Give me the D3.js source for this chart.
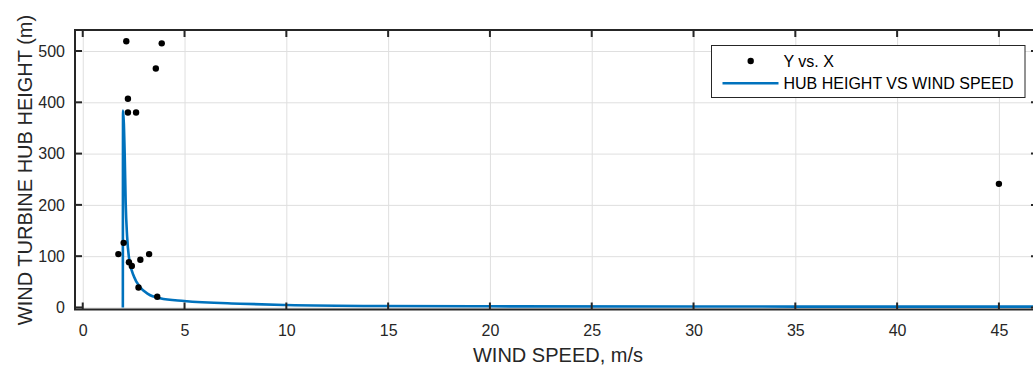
<!DOCTYPE html>
<html>
<head>
<meta charset="utf-8">
<script src="https://cdn.jsdelivr.net/npm/d3@7"></script>
<style>
  body { margin: 0; background: #fff; }
  svg { display: block; font-family: "Liberation Sans", Arial, Helvetica, sans-serif; }
</style>
</head>
<body>
<svg id="chart"></svg>
<script>
// measured points (wind speed m/s, hub height m)
const windSpeed = [2.14, 3.88, 3.59, 2.22, 2.22, 2.62, 2.01, 1.75, 3.26, 2.27, 2.41, 2.83, 2.74, 3.66, 45];
const hubHeight = [519, 515, 466, 407, 380, 380, 126, 104, 104, 88, 81, 93, 39, 21, 241];
// fitted curve
const fitSpeed = [1.97, 1.98, 2.06, 2.11, 2.18, 2.29, 2.52, 2.81, 3.22, 3.80, 4.98, 7.73, 10, 14.6, 20, 30, 40, 47.5];
const fitHeight = [0, 384, 300, 203, 138, 92, 60, 40, 26, 18, 12.6, 7.3, 4.8, 2.8, 2.2, 1.8, 1.6, 1.5];
const xTicks = [0, 5, 10, 15, 20, 25, 30, 35, 40, 45];
const yTicks = [0, 100, 200, 300, 400, 500];
const legendLabels = ["Y vs. X", "HUB HEIGHT VS WIND SPEED"];

const width = 1033, height = 365;
const plotLeft = 75, plotRight = 1038, plotTop = 30, plotBottom = 309.5;
const axisColor = "#262626";
const lineColor = "#0072BD";

const svg = d3.select("#chart").attr("width", width).attr("height", height);

const x = d3.scaleLinear().domain([-0.38, 46.92]).range([plotLeft, plotRight]);
const y = d3.scaleLinear().domain([-4, 541]).range([plotBottom, plotTop]);

// grid
svg.append("g")
    .attr("transform", "translate(0," + plotBottom + ")")
    .call(d3.axisBottom(x).tickValues(xTicks).tickSize(-(plotBottom - plotTop)).tickFormat(""))
    .call(g => g.select(".domain").remove())
    .selectAll("line").attr("stroke", "#dfdfdf").attr("stroke-width", 1);
svg.append("g")
    .attr("transform", "translate(" + plotLeft + ",0)")
    .call(d3.axisLeft(y).tickValues(yTicks).tickSize(-(plotRight - plotLeft)).tickFormat(""))
    .call(g => g.select(".domain").remove())
    .selectAll("line").attr("stroke", "#dfdfdf").attr("stroke-width", 1);

// fitted line
const pts = fitSpeed.map((d, i) => [d, fitHeight[i]]);
svg.append("path")
    .datum(pts)
    .attr("fill", "none")
    .attr("stroke", lineColor)
    .attr("stroke-width", 2.6)
    .attr("d", d3.line().x(d => x(d[0])).y(d => y(d[1])).curve(d3.curveMonotoneX));

// scatter points
svg.selectAll("circle.pt")
    .data(windSpeed)
    .enter()
    .append("circle")
    .attr("class", "pt")
    .attr("cx", d => x(d))
    .attr("cy", (d, i) => y(hubHeight[i]))
    .attr("r", 3.2)
    .attr("fill", "#000");

// axis box
svg.append("rect")
    .attr("x", plotLeft).attr("y", plotTop)
    .attr("width", plotRight - plotLeft).attr("height", plotBottom - plotTop)
    .attr("fill", "none").attr("stroke", axisColor).attr("stroke-width", 2);

// inward ticks on all four sides
const tick = 7;
svg.append("g").selectAll("line").data(xTicks).enter().append("line")
    .attr("x1", d => x(d)).attr("x2", d => x(d))
    .attr("y1", plotBottom).attr("y2", plotBottom - tick)
    .attr("stroke", axisColor).attr("stroke-width", 2);
svg.append("g").selectAll("line").data(xTicks).enter().append("line")
    .attr("x1", d => x(d)).attr("x2", d => x(d))
    .attr("y1", plotTop).attr("y2", plotTop + tick)
    .attr("stroke", axisColor).attr("stroke-width", 2);
svg.append("g").selectAll("line").data(yTicks).enter().append("line")
    .attr("x1", plotLeft).attr("x2", plotLeft + tick)
    .attr("y1", d => y(d)).attr("y2", d => y(d))
    .attr("stroke", axisColor).attr("stroke-width", 2);
svg.append("g").selectAll("line").data(yTicks).enter().append("line")
    .attr("x1", plotRight).attr("x2", plotRight - tick)
    .attr("y1", d => y(d)).attr("y2", d => y(d))
    .attr("stroke", axisColor).attr("stroke-width", 2);

// tick labels
svg.append("g")
    .attr("transform", "translate(0," + plotBottom + ")")
    .call(d3.axisBottom(x).tickValues(xTicks).tickSize(0).tickPadding(15))
    .call(g => g.select(".domain").remove())
    .selectAll("text").attr("font-size", 16).attr("fill", axisColor).attr("font-family", null);
svg.append("g")
    .attr("transform", "translate(" + plotLeft + ",0)")
    .call(d3.axisLeft(y).tickValues(yTicks).tickSize(0).tickPadding(10))
    .call(g => g.select(".domain").remove())
    .selectAll("text").attr("font-size", 16).attr("fill", axisColor).attr("font-family", null);

// axis titles
svg.append("text")
    .attr("x", 558)
    .attr("y", 361.5)
    .attr("text-anchor", "middle")
    .attr("font-size", 20)
    .attr("fill", axisColor)
    .text("WIND SPEED, m/s");
svg.append("text")
    .attr("transform", "rotate(-90)")
    .attr("x", -170)
    .attr("y", 31.5)
    .attr("text-anchor", "middle")
    .attr("font-size", 20)
    .attr("fill", axisColor)
    .text("WIND TURBINE HUB HEIGHT (m)");

// legend
const legend = svg.append("g").attr("transform", "translate(711.5,45.5)");
legend.append("rect")
    .attr("width", 313.5).attr("height", 52)
    .attr("fill", "#fff").attr("stroke", axisColor).attr("stroke-width", 1);
legend.append("circle").attr("cx", 39.2).attr("cy", 15.5).attr("r", 3.2).attr("fill", "#000");
legend.append("line")
    .attr("x1", 11).attr("x2", 67).attr("y1", 37.8).attr("y2", 37.8)
    .attr("stroke", lineColor).attr("stroke-width", 2.6);
legend.selectAll("text")
    .data(legendLabels)
    .enter()
    .append("text")
    .attr("x", 72)
    .attr("y", (d, i) => 21.8 + i * 22)
    .attr("font-size", 16)
    .attr("fill", "#000")
    .text(d => d);
</script>
</body>
</html>
